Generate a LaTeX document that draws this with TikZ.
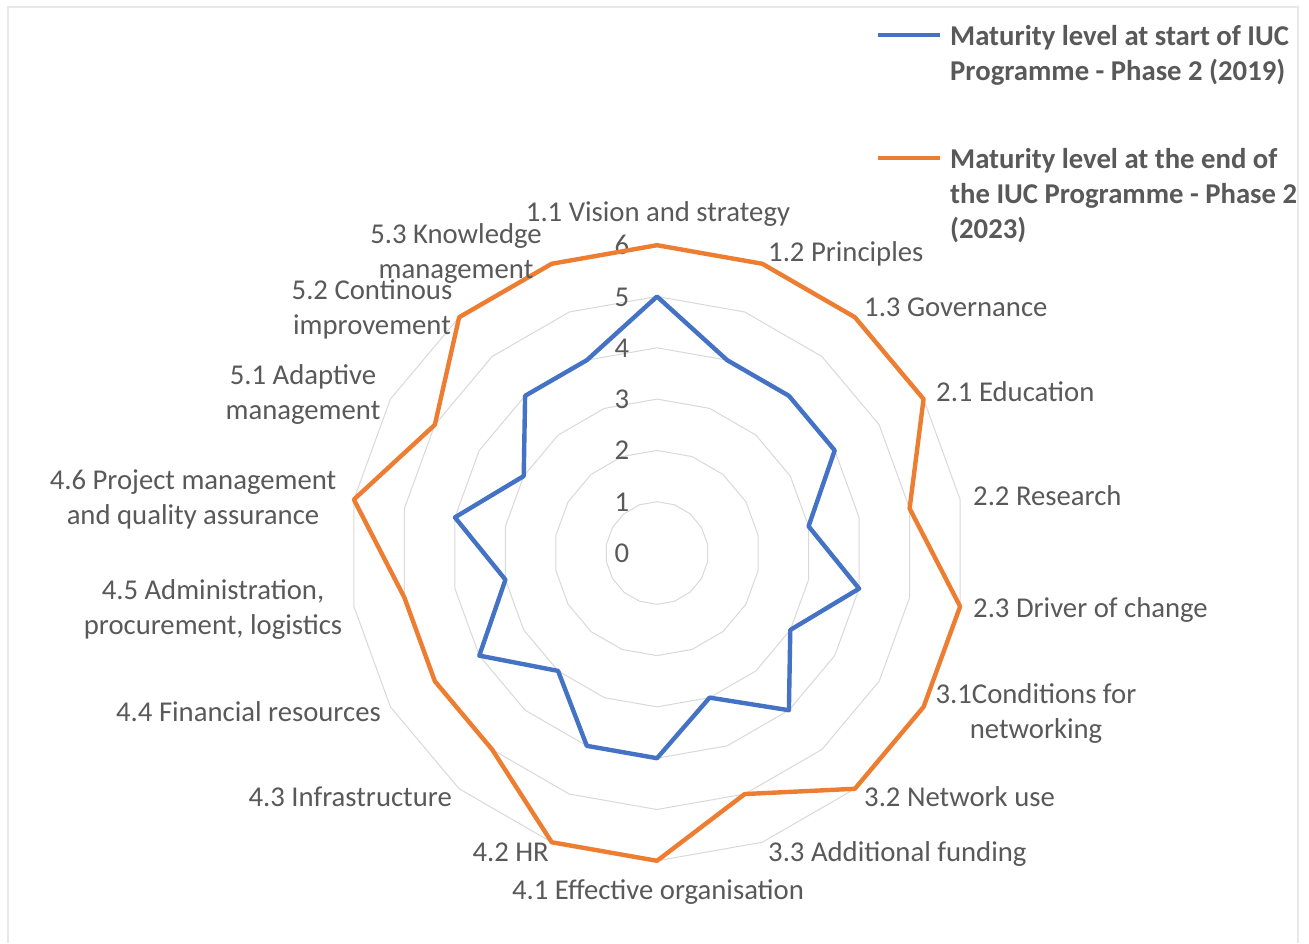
\documentclass[tikz,border=0pt]{standalone}
\usepackage{fontspec}
\setmainfont{Carlito}
\definecolor{serA}{HTML}{4472C4}
\definecolor{serB}{HTML}{ED7D31}
\definecolor{txtcol}{RGB}{89,89,89}
\definecolor{gridcol}{RGB}{217,217,217}
\definecolor{framecol}{RGB}{232,232,232}
\begin{document}
\begin{tikzpicture}[x=1pt,y=-1pt,
  lab/.style={font=\fontsize{28.7}{35}\selectfont, text=txtcol, inner sep=0pt, text height=0.9em, text depth=0pt, yshift=-5pt},
  labm/.style={font=\fontsize{28.7}{35}\selectfont, text=txtcol, inner sep=0pt, align=center, yshift=-2pt},
  leg/.style={font=\bfseries\fontsize{28.7}{35}\selectfont, text=txtcol, inner sep=0pt, align=left, anchor=north west},
  gridline/.style={draw=gridcol, line width=1pt},
  seriesA/.style={draw=serA, line width=4.4pt, line join=round},
  seriesB/.style={draw=serB, line width=4.4pt, line join=round}]
\useasboundingbox (0,0) rectangle (1309,943);
\fill[white] (0,0) rectangle (1309,943);
\draw[framecol, line width=2pt] (8,943) -- (8,7) -- (1298,7) -- (1298,943);
\def\cx{657}\def\cy{553}\def\u{51.3}
% grid rings
\foreach \r in {1,...,6}{
  \draw[gridline] (\cx,{\cy-\u*\r}) \foreach \k in {1,...,17}{ -- ({\cx+\u*\r*sin(20*\k)},{\cy-\u*\r*cos(20*\k)}) } -- cycle;
}
% ring labels
\foreach \r in {0,...,6}{
  \node[lab, anchor=center] (ring\r) at (622,{\cy-\u*\r}) {\r};
}
% data points
\foreach \v [count=\k from 0] in {5,4,4,4,3,4,3,4,3,4,4,3,4,3,4,3,4,4}{
  \coordinate (a\k) at ({\cx+\u*\v*sin(20*\k)},{\cy-\u*\v*cos(20*\k)});
}
\foreach \v [count=\k from 0] in {6,6,6,6,5,6,6,6,5,6,6,5,5,5,6,5,6,6}{
  \coordinate (b\k) at ({\cx+\u*\v*sin(20*\k)},{\cy-\u*\v*cos(20*\k)});
}
\draw[seriesA] (a0) \foreach \k in {1,...,17}{ -- (a\k) } -- cycle;
\draw[seriesB] (b0) \foreach \k in {1,...,17}{ -- (b\k) } -- cycle;
% axis labels
\node[lab, anchor=center] (l0) at (658,212) {1.1 Vision and strategy};
\node[lab, anchor=west] (l1) at (768,252) {1.2 Principles};
\node[lab, anchor=west] (l2) at (864,307) {1.3 Governance};
\node[lab, anchor=west] (l3) at (936,392) {2.1 Education};
\node[lab, anchor=west] (l4) at (973,496) {2.2 Research};
\node[lab, anchor=west] (l5) at (973,608) {2.3 Driver of change};
\node[labm, anchor=center] (l6) at (1036,711) {3.1Conditions for\\networking};
\node[lab, anchor=west] (l7) at (864,797) {3.2 Network use};
\node[lab, anchor=west] (l8) at (768,852) {3.3 Additional funding};
\node[lab, anchor=center] (l9) at (658,890) {4.1 Effective organisation};
\node[lab, anchor=east] (l10) at (549,852) {4.2 HR};
\node[lab, anchor=east] (l11) at (452,797) {4.3 Infrastructure};
\node[lab, anchor=east] (l12) at (381,712) {4.4 Financial resources};
\node[labm, anchor=center] (l13) at (213,607) {4.5 Administration,\\procurement, logistics};
\node[labm, anchor=center] (l14) at (193,497) {4.6 Project management\\and quality assurance};
\node[labm, anchor=center] (l15) at (303,392) {5.1 Adaptive\\management};
\node[labm, anchor=center] (l16) at (372,307) {5.2 Continous\\improvement};
\node[labm, anchor=center] (l17) at (456,251) {5.3 Knowledge\\management};
% legend
\coordinate (la1) at (878,35); \coordinate (la2) at (940,35);
\draw[serA, line width=4.4pt] (la1) -- (la2);
\node[leg] (legA) at (950,25) {Maturity level at start of IUC\\Programme - Phase 2 (2019)};
\coordinate (lb1) at (878,158); \coordinate (lb2) at (940,158);
\draw[serB, line width=4.4pt] (lb1) -- (lb2);
\node[leg] (legB) at (950,148) {Maturity level at the end of\\the IUC Programme - Phase 2\\(2023)};
\end{tikzpicture}
\end{document}
